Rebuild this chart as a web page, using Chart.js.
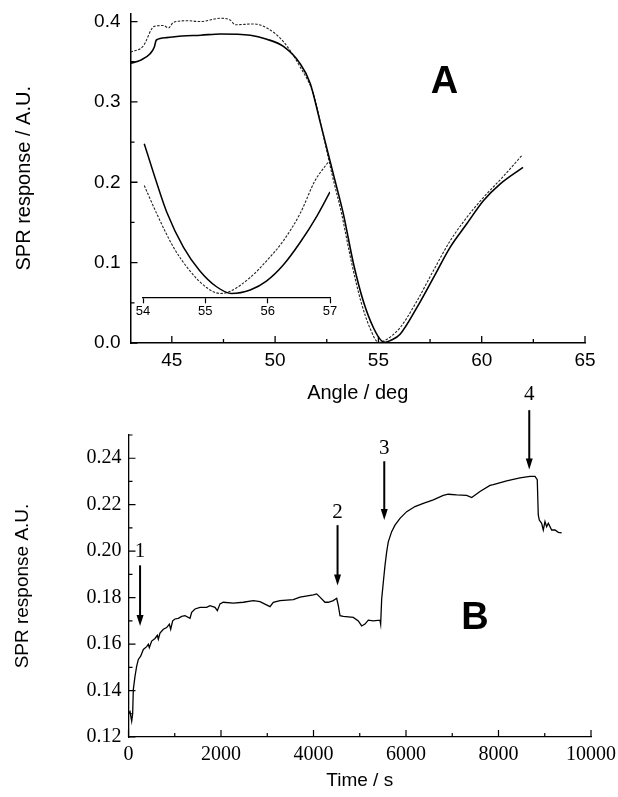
<!DOCTYPE html>
<html><head><meta charset="utf-8">
<script src="https://cdn.jsdelivr.net/npm/chart.js@4.4.1/dist/chart.umd.min.js"></script>
<style>
html,body{margin:0;padding:0;background:#fff;}
#wrap{position:relative;width:618px;height:797px;overflow:hidden;background:#fff;}
canvas{position:absolute;left:0;}
</style></head><body>
<div id="wrap">
<canvas id="cB" width="618" height="417" style="top:380px"></canvas>
<canvas id="cA" width="618" height="410" style="top:0"></canvas>
<canvas id="cI" width="618" height="410" style="top:0"></canvas>
</div>
<script>
// ---------- Panel A: SPR angle scans ----------
const angleSolid = [43.0, 43.5, 43.95, 44.15, 44.25, 44.75, 45.5, 46.4, 47.35, 48.8, 49.6, 50.4, 51.2, 51.7, 52.2, 52.9, 53.3, 53.8, 54.27, 54.76, 55.16, 55.35, 55.6, 56.05, 56.86, 57.66, 58.47, 59.27, 60.08, 60.9, 62.0];
const respSolid  = [0.348, 0.352, 0.360, 0.368, 0.377, 0.380, 0.382, 0.383, 0.3845, 0.383, 0.378, 0.369, 0.348, 0.323, 0.273, 0.202, 0.161, 0.098, 0.052, 0.019, 0.0025, 0.001, 0.0034, 0.011, 0.044, 0.081, 0.119, 0.148, 0.177, 0.198, 0.2185];
const angleDashed = [43.0, 43.6, 44.15, 44.6, 44.84, 45.08, 45.73, 46.37, 47.34, 47.82, 48.07, 48.95, 49.6, 50.4, 51.2, 51.85, 52.3, 52.8, 53.2, 53.7, 54.15, 54.6, 55.0, 55.3, 55.6, 56.05, 56.86, 57.66, 58.47, 59.27, 60.08, 61.0, 61.95];
const respDashed  = [0.362, 0.369, 0.394, 0.395, 0.392, 0.399, 0.401, 0.400, 0.404, 0.402, 0.396, 0.397, 0.392, 0.375, 0.344, 0.310, 0.262, 0.205, 0.163, 0.100, 0.052, 0.018, 0.001, 0.003, 0.008, 0.019, 0.052, 0.090, 0.127, 0.156, 0.181, 0.206, 0.2335];
// inset (expanded minimum region, plotted in the main response units)
const insetAngleSolid = [54.02, 54.2, 54.38, 54.65, 54.91, 55.18, 55.42, 55.72, 55.98, 56.25, 56.52, 56.79, 57.0];
const insetRespSolid  = [0.248, 0.204, 0.163, 0.119, 0.090, 0.070, 0.0616, 0.066, 0.077, 0.097, 0.125, 0.158, 0.188];
const insetAngleDashed = [54.02, 54.22, 54.49, 54.75, 55.02, 55.24, 55.39, 55.72, 55.98, 56.25, 56.52, 56.76, 56.97];
const insetRespDashed  = [0.196, 0.161, 0.119, 0.090, 0.069, 0.0616, 0.064, 0.0815, 0.102, 0.127, 0.161, 0.202, 0.225];
const insetAxisLevel = 0.056;

// ---------- Panel B: SPR response vs time ----------
const timeB = [0, 32, 69, 90, 104, 141, 177, 213, 263, 321, 393, 429, 450, 501, 573, 623, 645, 681, 753, 825, 883, 912, 955, 1005, 1077, 1150, 1222, 1330, 1366, 1438, 1546, 1690, 1762, 1870, 1921, 1978, 2050, 2266, 2483, 2699, 2843, 3059, 3131, 3275, 3564, 3708, 3996, 4068, 4140, 4248, 4320, 4428, 4501, 4537, 4573, 4645, 4861, 4969, 5041, 5113, 5185, 5293, 5437, 5452, 5474, 5510, 5546, 5582, 5617, 5690, 5762, 5870, 6015, 6194, 6374, 6590, 6806, 6914, 7096, 7312, 7420, 7600, 7816, 7887, 8177, 8464, 8681, 8789, 8838, 8860, 8882, 8933, 8968, 9005, 9041, 9077, 9149, 9221, 9293, 9366];
const respB = [0.1303, 0.1310, 0.1268, 0.1300, 0.1404, 0.1462, 0.1505, 0.1534, 0.1548, 0.1577, 0.1589, 0.1599, 0.1585, 0.1613, 0.1624, 0.1638, 0.1621, 0.1647, 0.1664, 0.1671, 0.1686, 0.1664, 0.1700, 0.1708, 0.1711, 0.1719, 0.1722, 0.1711, 0.1737, 0.1751, 0.1758, 0.1758, 0.1765, 0.1758, 0.1744, 0.1773, 0.1780, 0.1776, 0.1780, 0.1787, 0.1783, 0.1761, 0.1780, 0.1787, 0.1791, 0.1802, 0.1812, 0.1816, 0.1802, 0.1780, 0.1780, 0.1787, 0.1797, 0.1765, 0.1722, 0.1719, 0.1715, 0.1700, 0.1678, 0.1686, 0.1703, 0.1700, 0.1703, 0.1686, 0.1794, 0.1867, 0.1939, 0.1997, 0.2040, 0.2084, 0.2112, 0.2141, 0.2170, 0.2192, 0.2206, 0.2221, 0.2240, 0.2245, 0.2242, 0.2240, 0.2231, 0.2257, 0.2283, 0.2286, 0.2303, 0.2315, 0.2322, 0.2322, 0.2308, 0.2156, 0.2134, 0.2120, 0.2091, 0.2127, 0.2105, 0.2120, 0.2091, 0.2091, 0.2081, 0.2079];
const eventLabels = ['1', '2', '3', '4'];
const eventTimes  = [250, 4520, 5530, 8665];
const eventLabelY = [0.1998, 0.2167, 0.2441, 0.2673];
const arrowTop    = [0.1939, 0.2112, 0.2387, 0.2607];
const arrowTip    = [0.1678, 0.1852, 0.2134, 0.2351];

// ---------- tick values ----------
const ticksAx = [45, 50, 55, 60, 65], ticksAxMinor = [47.5, 52.5, 57.5, 62.5];
const ticksAy = [0, 0.1, 0.2, 0.3, 0.4], ticksAyMinor = [0.05, 0.15, 0.25, 0.35];
const ticksInset = [54, 55, 56, 57];
const ticksBx = [0, 2000, 4000, 6000, 8000, 10000], ticksBxMinor = [1000, 3000, 5000, 7000, 9000];
const ticksBy = [0.12, 0.14, 0.16, 0.18, 0.20, 0.22, 0.24], ticksByMinor = [0.13, 0.15, 0.17, 0.19, 0.21, 0.23, 0.25];

const pts = (xs, ys) => xs.map((x, i) => ({x: x, y: ys[i]}));
const SANS = '"Liberation Sans", Arial, sans-serif';
const SERIF = '"Liberation Serif", "Times New Roman", serif';
Chart.defaults.color = '#000';
Chart.defaults.font.family = SANS;
Chart.defaults.animation = false;

function setTicks(vals) { return s => { s.ticks = vals.map(v => ({value: v})); }; }
function zeroPad(s) { s.paddingTop = 0; s.paddingBottom = 0; s.paddingLeft = 0; s.paddingRight = 0; }

function inwardTicks(cfg) {
  return { id: 'inwardTicks', afterDraw(chart) {
    const ctx = chart.ctx, a = chart.chartArea, xs = chart.scales.x, ys = chart.scales.y;
    ctx.save(); ctx.strokeStyle = '#000'; ctx.lineWidth = cfg.width; ctx.beginPath();
    const vx = (vals, len) => vals.forEach(v => { const p = xs.getPixelForValue(v); ctx.moveTo(p, a.bottom); ctx.lineTo(p, a.bottom - len); });
    const vy = (vals, len) => vals.forEach(v => { const p = ys.getPixelForValue(v); ctx.moveTo(a.left, p); ctx.lineTo(a.left + len, p); });
    vx(cfg.xMajor, cfg.major); vx(cfg.xMinor, cfg.minor); vy(cfg.yMajor, cfg.major); vy(cfg.yMinor, cfg.minor);
    ctx.stroke(); ctx.restore();
  }};
}
function panelLabel(text, xv, yv) {
  return { id: 'panelLabel', afterDraw(chart) {
    const ctx = chart.ctx; ctx.save();
    ctx.font = 'bold 38px ' + SANS; ctx.fillStyle = '#000'; ctx.textAlign = 'center'; ctx.textBaseline = 'middle';
    ctx.fillText(text, chart.scales.x.getPixelForValue(xv), chart.scales.y.getPixelForValue(yv));
    ctx.restore();
  }};
}
const arrowsPlugin = { id: 'arrows', afterDraw(chart) {
  const ctx = chart.ctx, xs = chart.scales.x, ys = chart.scales.y;
  ctx.save(); ctx.fillStyle = '#000'; ctx.strokeStyle = '#000'; ctx.lineWidth = 2;
  ctx.font = '21px ' + SERIF; ctx.textAlign = 'center'; ctx.textBaseline = 'middle';
  eventTimes.forEach((t, i) => {
    const x = xs.getPixelForValue(t), y0 = ys.getPixelForValue(arrowTop[i]), y1 = ys.getPixelForValue(arrowTip[i]);
    ctx.beginPath(); ctx.moveTo(x, y0); ctx.lineTo(x, y1 - 8); ctx.stroke();
    ctx.beginPath(); ctx.moveTo(x - 3.5, y1 - 11); ctx.lineTo(x + 3.5, y1 - 11); ctx.lineTo(x, y1); ctx.closePath(); ctx.fill();
    ctx.fillText(eventLabels[i], x, ys.getPixelForValue(eventLabelY[i]));
  });
  ctx.restore();
}};

// ---------- Chart A ----------
new Chart(document.getElementById('cA'), {
  type: 'line',
  data: { datasets: [
    { data: pts(angleSolid, respSolid), borderColor: '#000', borderWidth: 1.6, pointRadius: 0, cubicInterpolationMode: 'monotone', fill: false },
    { data: pts(angleDashed, respDashed), borderColor: '#222', borderWidth: 1.1, borderDash: [2.5, 1.5], pointRadius: 0, cubicInterpolationMode: 'monotone', fill: false }
  ]},
  options: {
    responsive: false, animation: false, events: [],
    layout: { padding: { left: 0, right: 33, top: 13.5, bottom: 0 } },
    plugins: { legend: { display: false }, tooltip: { enabled: false } },
    scales: {
      x: { type: 'linear', min: 43, max: 65, afterBuildTicks: setTicks(ticksAx),
        afterFit: s => { s.height = 67; zeroPad(s); },
        grid: { display: false, drawTicks: false }, border: { display: true, color: '#000', width: 1.5 },
        ticks: { autoSkip: false, maxRotation: 0, padding: 6, font: { size: 19 }, callback: v => String(v) },
        title: { display: true, text: 'Angle / deg', font: { size: 20 }, padding: { top: 0, bottom: 5 } } },
      y: { type: 'linear', min: 0, max: 0.41, afterBuildTicks: setTicks(ticksAy),
        afterFit: s => { s.width = 130.5; zeroPad(s); },
        grid: { display: false, drawTicks: false }, border: { display: true, color: '#000', width: 1.5 },
        ticks: { autoSkip: false, padding: 10, font: { size: 19 }, callback: v => Number(v).toFixed(1) },
        title: { display: true, text: 'SPR response / A.U.', font: { size: 20 }, padding: { top: 12.5, bottom: 0 } } }
    }
  },
  plugins: [inwardTicks({ xMajor: ticksAx, xMinor: ticksAxMinor, yMajor: ticksAy, yMinor: ticksAyMinor, major: 7, minor: 4, width: 1.3 }), panelLabel('A', 58.2, 0.3246)]
});

// ---------- Inset of A ----------
new Chart(document.getElementById('cI'), {
  type: 'line',
  data: { datasets: [
    { data: pts(insetAngleSolid, insetRespSolid), borderColor: '#000', borderWidth: 1.5, pointRadius: 0, cubicInterpolationMode: 'monotone', fill: false },
    { data: pts(insetAngleDashed, insetRespDashed), borderColor: '#222', borderWidth: 1.1, borderDash: [2.5, 1.5], pointRadius: 0, cubicInterpolationMode: 'monotone', fill: false }
  ]},
  options: {
    responsive: false, animation: false, events: [],
    layout: { padding: { left: 143, right: 288, top: 13.5, bottom: 67 } },
    plugins: { legend: { display: false }, tooltip: { enabled: false } },
    scales: {
      x: { type: 'linear', min: 54, max: 57, position: { y: insetAxisLevel }, afterBuildTicks: setTicks(ticksInset),
        afterFit: zeroPad,
        grid: { display: true, drawOnChartArea: false, drawTicks: true, tickLength: 5, tickColor: '#000', tickWidth: 1.2 },
        border: { display: true, color: '#000', width: 1.3 },
        ticks: { autoSkip: false, maxRotation: 0, padding: 1, font: { size: 13 }, callback: v => String(v) } },
      y: { type: 'linear', min: 0, max: 0.41, display: false }
    }
  }
});

// ---------- Chart B ----------
new Chart(document.getElementById('cB'), {
  type: 'line',
  data: { datasets: [
    { data: pts(timeB, respB), borderColor: '#000', borderWidth: 1.3, pointRadius: 0, tension: 0, fill: false }
  ]},
  options: {
    responsive: false, animation: false, events: [],
    layout: { padding: { left: 0, right: 27, top: 55, bottom: 0 } },
    plugins: { legend: { display: false }, tooltip: { enabled: false } },
    scales: {
      x: { type: 'linear', min: 0, max: 10000, afterBuildTicks: setTicks(ticksBx),
        afterFit: s => { s.height = 60; zeroPad(s); },
        grid: { display: false, drawTicks: false }, border: { display: true, color: '#000', width: 1.3 },
        ticks: { autoSkip: false, maxRotation: 0, padding: 6, font: { size: 20, family: SERIF }, callback: v => String(v) },
        title: { display: true, text: 'Time / s', font: { size: 19 }, padding: { top: 0, bottom: 4.6 } } },
      y: { type: 'linear', min: 0.12, max: 0.25, afterBuildTicks: setTicks(ticksBy),
        afterFit: s => { s.width = 128.5; zeroPad(s); },
        grid: { display: false, drawTicks: false }, border: { display: true, color: '#000', width: 1.3 },
        ticks: { autoSkip: false, padding: 7, font: { size: 20, family: SERIF }, callback: v => Number(v).toFixed(2) },
        title: { display: true, text: 'SPR response A.U.', font: { size: 19 }, padding: { top: 11.6, bottom: 0 } } }
    }
  },
  plugins: [inwardTicks({ xMajor: ticksBx, xMinor: ticksBxMinor, yMajor: ticksBy, yMinor: ticksByMinor, major: 7, minor: 4, width: 1.2 }), panelLabel('B', 7490, 0.1712), arrowsPlugin]
});
</script>
</body></html>
